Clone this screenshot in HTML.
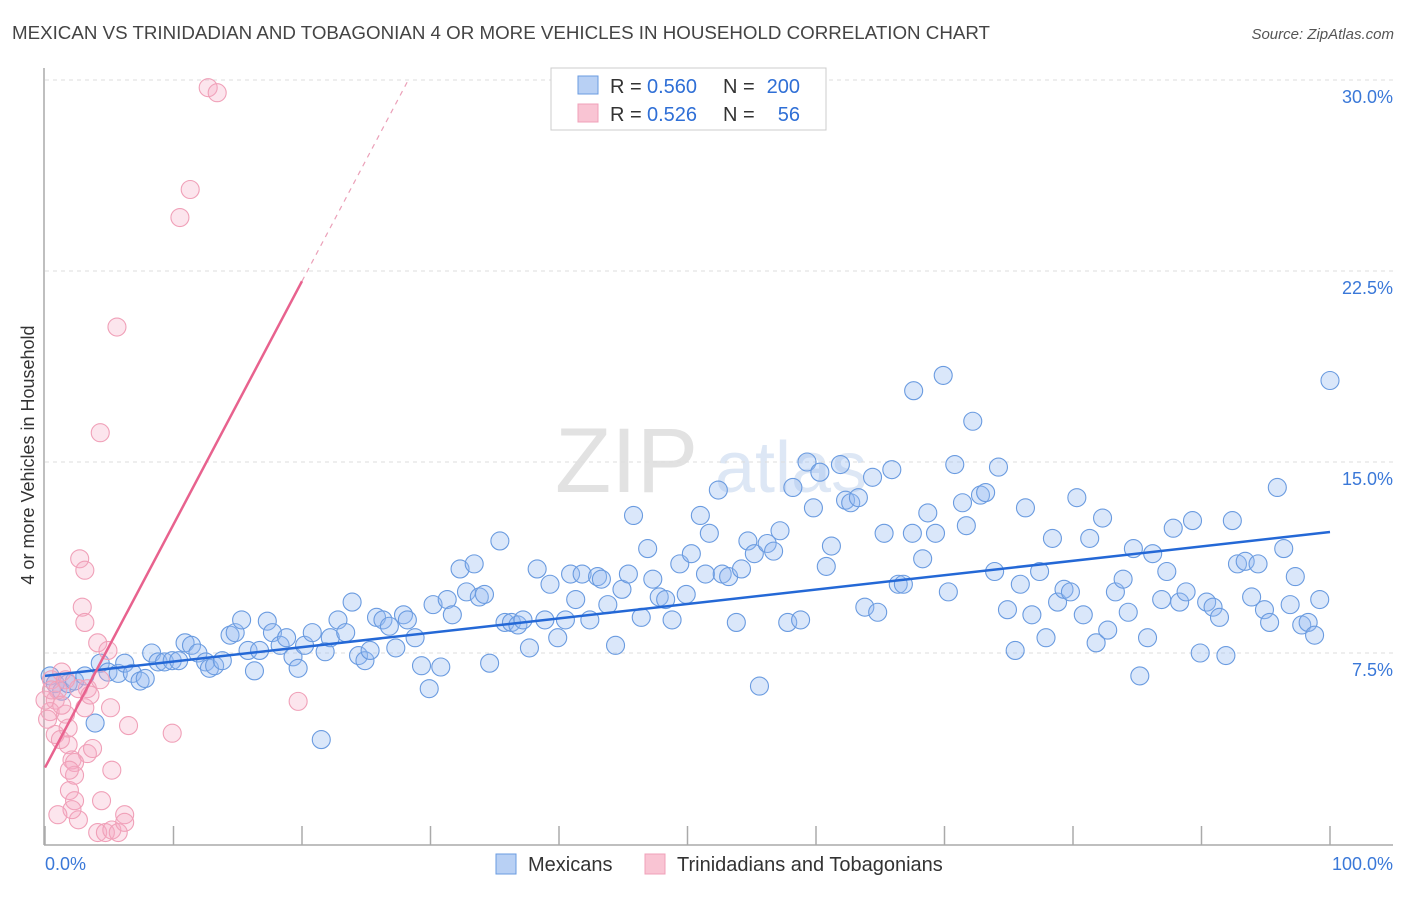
<!DOCTYPE html>
<html><head><meta charset="utf-8"><style>
body{margin:0;background:#fff;font-family:"Liberation Sans",sans-serif;}
svg text{font-family:"Liberation Sans",sans-serif;}
</style></head><body>
<svg id="chart" width="1406" height="892" xmlns="http://www.w3.org/2000/svg">
<text x="12" y="39" font-size="18" fill="#444" textLength="978" lengthAdjust="spacingAndGlyphs">MEXICAN VS TRINIDADIAN AND TOBAGONIAN 4 OR MORE VEHICLES IN HOUSEHOLD CORRELATION CHART</text>
<text x="1394" y="39" font-size="15" fill="#555" text-anchor="end" font-style="italic">Source: ZipAtlas.com</text>
<text x="555" y="492" font-size="92" fill="#e2e2e2" font-family="Liberation Serif">ZIP</text>
<text x="715" y="492" font-size="72" fill="#dde7f5">atlas</text>
<text transform="translate(34,455) rotate(-90)" font-size="18" fill="#333" text-anchor="middle">4 or more Vehicles in Household</text>
<g id="grid"></g>
<g id="axes"></g>
<g id="pts"></g>
<g id="trend"></g>
<g>
<rect x="551" y="68" width="275" height="62" fill="#fff" stroke="#ccc"/>
<rect x="578" y="76" width="20" height="18" fill="#b8d0f4" stroke="#6a9be0"/>
<rect x="578" y="104" width="20" height="18" fill="#f9c4d3" stroke="#f0a0b8"/>
<text x="610" y="93" font-size="20" fill="#333">R =</text>
<text x="647" y="93" font-size="20" fill="#2f6fd6">0.560</text>
<text x="723" y="93" font-size="20" fill="#333">N =</text>
<text x="800" y="93" font-size="20" fill="#2f6fd6" text-anchor="end">200</text>
<text x="610" y="121" font-size="20" fill="#333">R =</text>
<text x="647" y="121" font-size="20" fill="#2f6fd6">0.526</text>
<text x="723" y="121" font-size="20" fill="#333">N =</text>
<text x="800" y="121" font-size="20" fill="#2f6fd6" text-anchor="end">56</text>
</g>
<g>
<rect x="496" y="854" width="20" height="20" fill="#b8d0f4" stroke="#6a9be0"/>
<text x="528" y="871" font-size="20" fill="#333">Mexicans</text>
<rect x="645" y="854" width="20" height="20" fill="#f9c4d3" stroke="#f0a0b8"/>
<text x="677" y="871" font-size="20" fill="#333">Trinidadians and Tobagonians</text>
</g>
</svg>
<script>
const yTicks=[7.5,15,22.5,30];
const yTickLabels=["7.5%","15.0%","22.5%","30.0%"];
const xTicks=[0,10,20,30,40,50,60,70,80,90,100];
const mexX=[0.4,0.8,1.3,1.8,2.3,3.1,3.9,4.3,4.9,5.7,6.2,6.8,7.4,7.8,8.3,8.8,9.3,9.9,10.4,10.9,11.4,11.9,12.5,12.8,13.2,13.8,14.4,14.8,15.3,15.8,16.3,16.7,17.3,17.7,18.3,18.8,19.3,19.7,20.2,20.8,21.5,21.8,22.2,22.8,23.4,23.9,24.4,24.9,25.3,25.8,26.3,26.8,27.3,27.9,28.2,28.8,29.3,29.9,30.2,30.8,31.3,31.7,32.3,32.8,33.4,33.8,34.2,34.6,35.4,35.8,36.3,36.8,37.2,37.7,38.3,38.9,39.3,39.9,40.5,40.9,41.3,41.8,42.4,43.0,43.3,43.8,44.4,44.9,45.4,45.8,46.4,46.9,47.3,47.8,48.3,48.8,49.4,49.9,50.3,51.0,51.4,51.7,52.4,52.7,53.2,53.8,54.2,54.7,55.2,55.6,56.2,56.7,57.2,57.8,58.2,58.8,59.3,59.8,60.3,60.8,61.2,61.9,62.3,62.7,63.3,63.8,64.4,64.8,65.3,65.9,66.4,66.8,67.5,67.6,68.3,68.7,69.3,69.9,70.3,70.8,71.4,71.7,72.2,72.8,73.2,73.9,74.2,74.9,75.5,75.9,76.3,76.8,77.4,77.9,78.4,78.8,79.3,79.8,80.3,80.8,81.3,81.8,82.3,82.7,83.3,83.9,84.3,84.7,85.2,85.8,86.2,86.9,87.3,87.8,88.3,88.8,89.3,89.9,90.4,90.9,91.4,91.9,92.4,92.8,93.4,93.9,94.4,94.9,95.3,95.9,96.4,96.9,97.3,97.8,98.3,98.8,99.2,100];
const mexY=[6.6,6.3,6.0,6.3,6.4,6.6,4.75,7.1,6.75,6.7,7.1,6.7,6.4,6.5,7.5,7.15,7.15,7.2,7.2,7.9,7.8,7.5,7.15,6.9,7.0,7.2,8.2,8.3,8.8,7.6,6.8,7.6,8.75,8.3,7.8,8.1,7.35,6.9,7.8,8.3,4.1,7.55,8.1,8.8,8.3,9.5,7.4,7.2,7.6,8.9,8.8,8.55,7.7,9.0,8.8,8.1,7.0,6.1,9.4,6.95,9.6,9.0,10.8,9.9,11.0,9.7,9.8,7.1,11.9,8.7,8.7,8.6,8.8,7.7,10.8,8.8,10.2,8.1,8.8,10.6,9.6,10.6,8.8,10.5,10.4,9.4,7.8,10.0,10.6,12.9,8.9,11.6,10.4,9.7,9.6,8.8,11.0,9.8,11.4,12.9,10.6,12.2,13.9,10.6,10.5,8.7,10.8,11.9,11.4,6.2,11.8,11.5,12.3,8.7,14.0,8.8,15.0,13.2,14.6,10.9,11.7,14.9,13.5,13.4,13.6,9.3,14.4,9.1,12.2,14.7,10.2,10.2,12.2,17.8,11.2,13.0,12.2,18.4,9.9,14.9,13.4,12.5,16.6,13.7,13.8,10.7,14.8,9.2,7.6,10.2,13.2,9.0,10.7,8.1,12.0,9.5,10.0,9.9,13.6,9.0,12.0,7.9,12.8,8.4,9.9,10.4,9.1,11.6,6.6,8.1,11.4,9.6,10.7,12.4,9.5,9.9,12.7,7.5,9.5,9.3,8.9,7.4,12.7,11.0,11.1,9.7,11.0,9.2,8.7,14.0,11.6,9.4,10.5,8.6,8.7,8.2,9.6,18.2];
const triX=[0.5,0.8,0.4,0.2,1.0,1.3,1.6,1.8,2.1,1.9,2.3,2.6,2.1,1.0,2.7,3.1,2.9,3.1,3.3,3.1,3.3,3.7,4.1,4.3,4.3,4.4,4.1,4.7,5.1,5.2,5.2,5.6,5.7,6.2,6.5,6.2,9.9,10.5,11.3,12.7,13.4,19.7,2.3,1.3,1.8,2.6,4.9,0,0.8,2.3,3.5,1.2,0.5,1.6,1.9];
const triY=[6.45,5.65,5.2,4.9,6.05,6.75,5.1,3.9,3.3,2.1,1.7,0.95,1.35,1.15,11.2,10.75,9.3,8.7,6.1,5.35,3.55,3.75,7.9,16.15,6.45,1.7,0.45,0.45,5.35,2.9,0.55,20.3,0.45,1.15,4.65,0.85,4.35,24.6,25.7,29.7,29.5,5.6,3.2,5.45,4.55,6.1,7.6,5.65,4.3,2.7,5.85,4.1,6.05,6.45,2.9];
const mexTrend=[6.6,12.25];
const triTrend=[3.0,0.955];
const X0=45,X1=1330,Y0=844,YS=191/7.5;
const sx=v=>X0+(X1-X0)*v/100, sy=v=>Y0-v*YS;
const NS="http://www.w3.org/2000/svg";
function mk(t,a,p){const e=document.createElementNS(NS,t);for(const k in a)e.setAttribute(k,a[k]);p.appendChild(e);return e;}
const grid=document.getElementById('grid'),axes=document.getElementById('axes'),pts=document.getElementById('pts'),tr=document.getElementById('trend');
yTicks.forEach((v,i)=>{
 const l=mk('line',{x1:45,x2:1393,y1:sy(v),y2:sy(v),stroke:'#ddd','stroke-dasharray':'4,4'},grid);
 
 
 const t=mk('text',{x:1393,y:sy(v)+23,'font-size':18,fill:'#3a78d8','text-anchor':'end'},grid);
 t.textContent=yTickLabels[i];
 
 
});
mk('line',{x1:44,x2:44,y1:68,y2:845,stroke:'#aaa','stroke-width':1.5},axes);
mk('line',{x1:44,x2:1393,y1:845,y2:845,stroke:'#aaa','stroke-width':1.5},axes);
xTicks.forEach(v=>{
 const l=mk('line',{x1:sx(v),x2:sx(v),y1:826,y2:845,stroke:'#aaa','stroke-width':1.5},axes);
 
 
});
const xl0=mk('text',{x:45,y:870,'font-size':18,fill:'#3a78d8'},axes);xl0.textContent='0.0%';


const xl1=mk('text',{x:1393,y:870,'font-size':18,fill:'#3a78d8','text-anchor':'end'},axes);xl1.textContent='100.0%';


mexX.forEach((x,i)=>{
 const c=mk('circle',{cx:sx(x),cy:sy(mexY[i]),r:9,fill:'rgba(150,185,240,0.35)',stroke:'#6a9be0','stroke-width':1.1},pts);
 
 
});
triX.forEach((x,i)=>{
 const c=mk('circle',{cx:sx(x),cy:sy(triY[i]),r:9,fill:'rgba(245,170,195,0.3)',stroke:'#f0a0b8','stroke-width':1.1},pts);
 
 
});
const bl=mk('line',{x1:sx(0),y1:sy(mexTrend[0]),x2:sx(100),y2:sy(mexTrend[1]),stroke:'#2468d6','stroke-width':2.5},tr);


const xe=20, xd=(30-triTrend[0])/triTrend[1];
const pl=mk('line',{x1:sx(0),y1:sy(triTrend[0]),x2:sx(xe),y2:sy(triTrend[0]+triTrend[1]*xe),stroke:'#e8628e','stroke-width':2.5},tr);


const pd=mk('line',{x1:sx(xe),y1:sy(triTrend[0]+triTrend[1]*xe),x2:sx(xd),y2:sy(30),stroke:'#eba0b8','stroke-width':1.2,'stroke-dasharray':'5,5'},tr);


</script>
</body></html>
